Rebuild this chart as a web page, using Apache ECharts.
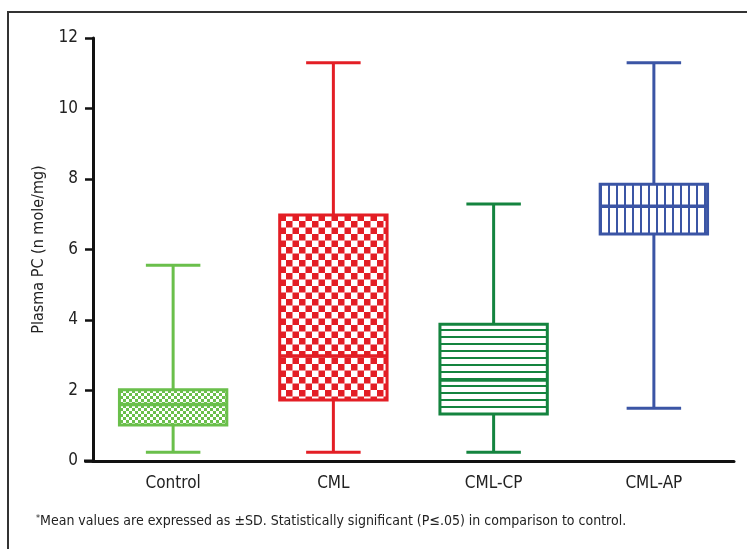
<!DOCTYPE html>
<html>
<head>
<meta charset="utf-8">
<script src="https://cdn.jsdelivr.net/npm/echarts@6/dist/echarts.min.js"></script>
<style>
    html, body { margin: 0; padding: 0; background: #fff; }
    #chart { width: 747px; height: 549px; }
</style>
</head>
<body>
<div id="chart"></div>
<script>
// groups on the x axis
var categories = ['Control', 'CML', 'CML-CP', 'CML-AP'];
// box values: min, q1, median, q3, max
var minValues = [0.25, 0.25, 0.25, 1.5];
var q1Values = [1.02, 1.73, 1.33, 6.44];
var medianValues = [1.6, 2.98, 2.3, 7.23];
var q3Values = [2.02, 6.98, 3.88, 7.85];
var maxValues = [5.55, 11.3, 7.29, 11.3];
var yTicks = [0, 2, 4, 6, 8, 10, 12];

var colors = ['#6abf4b', '#e31e25', '#14843f', '#3b55a5'];
var font = '"Liberation Sans Narrow", "DejaVu Sans Condensed", sans-serif';

// small canvas tiles used as fills
function makeTile(w, h, draw) {
    var c = document.createElement('canvas');
    c.width = w;
    c.height = h;
    var ctx = c.getContext('2d');
    ctx.fillStyle = '#fff';
    ctx.fillRect(0, 0, w, h);
    draw(ctx);
    return { image: c, repeat: 'repeat' };
}

var patterns = [
    // fine check
    makeTile(6, 6, function (ctx) {
        ctx.fillStyle = colors[0];
        ctx.fillRect(0, 0, 3, 3);
        ctx.fillRect(3, 3, 3, 3);
    }),
    // big check
    makeTile(13, 13, function (ctx) {
        ctx.fillStyle = colors[1];
        ctx.fillRect(0, 0, 6.5, 6.5);
        ctx.fillRect(6.5, 6.5, 6.5, 6.5);
    }),
    // horizontal lines
    makeTile(4, 7, function (ctx) {
        ctx.fillStyle = colors[2];
        ctx.fillRect(0, 0, 4, 2);
    }),
    // vertical lines
    makeTile(8, 4, function (ctx) {
        ctx.fillStyle = colors[3];
        ctx.fillRect(0, 0, 2, 4);
    })
];

var boxData = categories.map(function (c, i) {
    return [i, minValues[i], q1Values[i], medianValues[i], q3Values[i], maxValues[i]];
});

function renderBox(params, api) {
    var i = api.value(0);
    var pMin = api.coord([i, api.value(1)]);
    var pQ1 = api.coord([i, api.value(2)]);
    var pMed = api.coord([i, api.value(3)]);
    var pQ3 = api.coord([i, api.value(4)]);
    var pMax = api.coord([i, api.value(5)]);
    var band = api.size([1, 0])[0];
    var boxW = band * 0.67;
    var capW = band * 0.34;
    var x = pMed[0];
    var color = colors[i];
    var lineStyle = { stroke: color, lineWidth: 3, fill: null };
    return {
        type: 'group',
        children: [
            { type: 'line', shape: { x1: x, y1: pMax[1], x2: x, y2: pQ3[1] }, style: lineStyle },
            { type: 'line', shape: { x1: x, y1: pQ1[1], x2: x, y2: pMin[1] }, style: lineStyle },
            { type: 'line', shape: { x1: x - capW / 2, y1: pMax[1], x2: x + capW / 2, y2: pMax[1] }, style: lineStyle },
            { type: 'line', shape: { x1: x - capW / 2, y1: pMin[1], x2: x + capW / 2, y2: pMin[1] }, style: lineStyle },
            {
                type: 'rect',
                shape: { x: x - boxW / 2, y: pQ3[1], width: boxW, height: pQ1[1] - pQ3[1] },
                style: { fill: patterns[i], stroke: color, lineWidth: 3 }
            },
            { type: 'line', shape: { x1: x - boxW / 2, y1: pMed[1], x2: x + boxW / 2, y2: pMed[1] }, style: { stroke: color, lineWidth: 3.5 } }
        ]
    };
}

var chart = echarts.init(document.getElementById('chart'));
chart.setOption({
    animation: false,
    backgroundColor: '#fff',
    grid: { left: 93, right: 13, top: 38, bottom: 88 },
    xAxis: {
        type: 'category',
        data: categories,
        axisLine: { lineStyle: { color: '#111', width: 3 } },
        axisTick: { alignWithLabel: true, length: 8, lineStyle: { color: '#111', width: 2.5 } },
        axisLabel: { color: '#222', fontFamily: font, fontSize: 17, margin: 14 }
    },
    yAxis: {
        type: 'value',
        min: yTicks[0],
        max: yTicks[yTicks.length - 1],
        interval: 2,
        name: 'Plasma PC (n mole/mg)',
        nameLocation: 'middle',
        nameGap: 46,
        nameTextStyle: { color: '#222', fontFamily: font, fontSize: 16 },
        splitLine: { show: false },
        axisLine: { show: true, lineStyle: { color: '#111', width: 3 } },
        axisTick: { show: true, length: 8, lineStyle: { color: '#111', width: 2.5 } },
        axisLabel: { color: '#222', fontFamily: font, fontSize: 17, margin: 15 }
    },
    series: [{
        type: 'custom',
        renderItem: renderBox,
        encode: { x: 0, y: [1, 2, 3, 4, 5] },
        data: boxData
    }],
    graphic: [
        {
            type: 'polyline',
            shape: { points: [[8, 549], [8, 12], [747, 12]] },
            style: { stroke: '#333', lineWidth: 2, fill: null }
        },
        {
            // x axis runs a little past the y axis on the left
            type: 'line',
            shape: { x1: 84, y1: 461, x2: 94, y2: 461 },
            style: { stroke: '#111', lineWidth: 3 }
        },
        {
            type: 'text',
            left: 36,
            top: 514,
            style: {
                text: '{s|*}Mean values are expressed as \u00b1SD. Statistically significant (P\u2264.05) in comparison to control.',
                fill: '#222',
                font: '14px ' + font,
                rich: {
                    s: { fontSize: 9, verticalAlign: 'top', fill: '#222', fontFamily: font }
                }
            }
        }
    ]
});
</script>
</body>
</html>
